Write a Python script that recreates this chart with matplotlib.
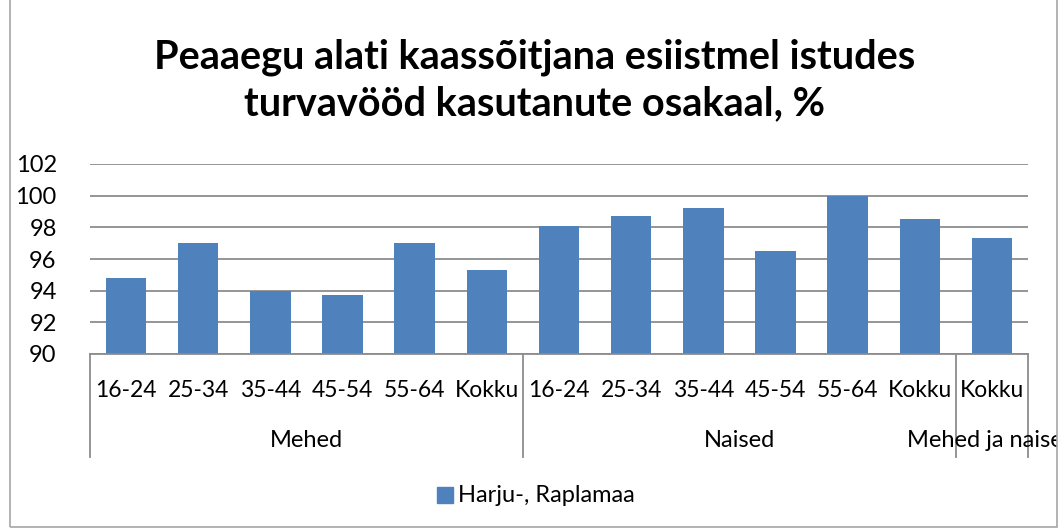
import numpy as np
import matplotlib.pyplot as plt
from matplotlib.patches import Rectangle

plt.rcParams['font.family'] = ['Lato', 'DejaVu Sans']

# data
categories = ['16-24', '25-34', '35-44', '45-54', '55-64', 'Kokku',
              '16-24', '25-34', '35-44', '45-54', '55-64', 'Kokku',
              'Kokku']
values = [94.8, 97.0, 94.0, 93.7, 97.0, 95.3,
          98.1, 98.7, 99.2, 96.5, 100.0, 98.5,
          97.3]
groups = ['Mehed', 'Naised', 'Mehed ja naised']
group_sizes = [6, 6, 1]
series_name = 'Harju-, Raplamaa'
title = 'Peaaegu alati kaassõitjana esiistmel istudes\nturvavööd kasutanute osakaal, %'

BAR = '#4F81BD'
GRID = '#8C8C8C'

fig = plt.figure(figsize=(10.64, 5.29), dpi=100)

# outer chart border
border = Rectangle((10/1064, 2/529), 1047/1064, 540/529, transform=fig.transFigure,
                   fill=False, edgecolor='#A6A6A6', lw=1.2)
fig.patches.append(border)

ax = fig.add_axes([90/1064, 1-354/529, 938/1064, 190/529])
x = np.arange(len(values))
ax.bar(x, values, width=0.56, color=BAR, zorder=3)
ax.set_ylim(90, 102)
ax.set_xlim(-0.5, len(values)-0.5)
ax.set_yticks(np.arange(90, 103, 2))
ax.yaxis.grid(True, color=GRID, lw=1.3)
ax.set_axisbelow(True)
for s in ['top', 'right', 'left']:
    ax.spines[s].set_visible(False)
ax.spines['bottom'].set_color(GRID)
ax.spines['bottom'].set_linewidth(1.3)
ax.spines['bottom'].set_zorder(4)
ax.tick_params(axis='y', length=0, labelsize=17, pad=24)
ax.set_xticks(x)
ax.set_xticklabels(categories)
ax.tick_params(axis='x', length=0, labelsize=16.5, pad=19)

# group separators and labels
tr = ax.get_xaxis_transform()
edges = np.concatenate([[0], np.cumsum(group_sizes)]) - 0.5
for e in edges:
    ax.plot([e, e], [0, -0.542], transform=tr, color=GRID, lw=1.3, clip_on=False)
clip = Rectangle((10/1064, 0), 1047/1064, 1, transform=fig.transFigure, visible=False)
fig.patches.append(clip)
for g, a, b in zip(groups, edges[:-1], edges[1:]):
    t = ax.text((a+b)/2, -0.453, g, transform=tr, ha='center', va='center', fontsize=17)
    t.set_clip_path(clip)
    t.set_clip_on(True)

fig.text(535/1064, 1-80/529, title, ha='center', va='center', fontsize=28.5,
         fontweight='bold', linespacing=1.3)

# legend
fig.patches.append(Rectangle((437/1064, 1-503/529), 16/1064, 16/529,
                             transform=fig.transFigure, color=BAR))
fig.text(458/1064, 1-495/529, series_name, ha='left', va='center', fontsize=17)

fig.savefig('out.png', dpi=100)
